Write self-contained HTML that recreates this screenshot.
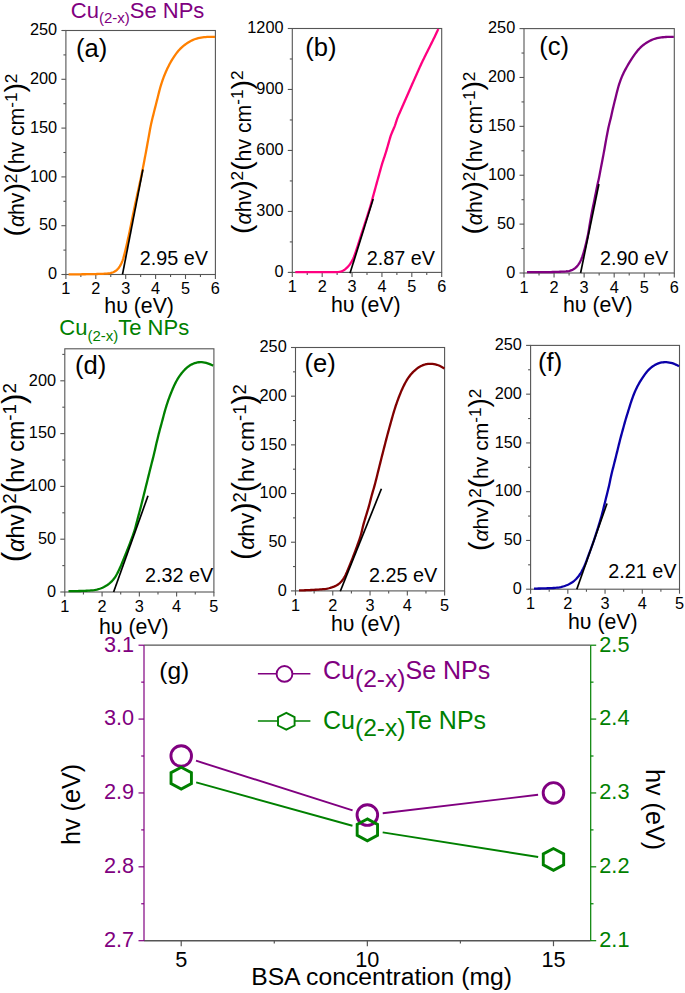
<!DOCTYPE html>
<html><head><meta charset="utf-8"><title>Figure</title><style>html,body{margin:0;padding:0;background:#fff;overflow:hidden;}svg{display:block;}text{font-family:"Liberation Sans", sans-serif;}</style></head><body>
<svg width="685" height="993" viewBox="0 0 685 993">
<rect width="685" height="993" fill="#fff"/>
<text x="70.8" y="17.6" font-size="22.0" fill="#800080">Cu<tspan font-size="15" dy="5.5">(2-x)</tspan><tspan dy="-5.5">Se NPs</tspan></text>
<text x="59.3" y="335.2" font-size="22.0" fill="#008000">Cu<tspan font-size="15" dy="5.5">(2-x)</tspan><tspan dy="-5.5">Te NPs</tspan></text>
<rect x="65.90" y="30.50" width="149.50" height="244.00" fill="none" stroke="#555" stroke-width="1.10"/>
<line x1="65.90" y1="274.50" x2="65.90" y2="279.00" stroke="#555" stroke-width="1.10"/>
<text x="65.90" y="294.10" font-size="16.30" text-anchor="middle" fill="#000">1</text>
<line x1="80.85" y1="274.50" x2="80.85" y2="277.00" stroke="#555" stroke-width="1.10"/>
<line x1="95.80" y1="274.50" x2="95.80" y2="279.00" stroke="#555" stroke-width="1.10"/>
<text x="95.80" y="294.10" font-size="16.30" text-anchor="middle" fill="#000">2</text>
<line x1="110.75" y1="274.50" x2="110.75" y2="277.00" stroke="#555" stroke-width="1.10"/>
<line x1="125.70" y1="274.50" x2="125.70" y2="279.00" stroke="#555" stroke-width="1.10"/>
<text x="125.70" y="294.10" font-size="16.30" text-anchor="middle" fill="#000">3</text>
<line x1="140.65" y1="274.50" x2="140.65" y2="277.00" stroke="#555" stroke-width="1.10"/>
<line x1="155.60" y1="274.50" x2="155.60" y2="279.00" stroke="#555" stroke-width="1.10"/>
<text x="155.60" y="294.10" font-size="16.30" text-anchor="middle" fill="#000">4</text>
<line x1="170.55" y1="274.50" x2="170.55" y2="277.00" stroke="#555" stroke-width="1.10"/>
<line x1="185.50" y1="274.50" x2="185.50" y2="279.00" stroke="#555" stroke-width="1.10"/>
<text x="185.50" y="294.10" font-size="16.30" text-anchor="middle" fill="#000">5</text>
<line x1="200.45" y1="274.50" x2="200.45" y2="277.00" stroke="#555" stroke-width="1.10"/>
<line x1="215.40" y1="274.50" x2="215.40" y2="279.00" stroke="#555" stroke-width="1.10"/>
<text x="215.40" y="294.10" font-size="16.30" text-anchor="middle" fill="#000">6</text>
<line x1="61.40" y1="274.50" x2="65.90" y2="274.50" stroke="#555" stroke-width="1.10"/>
<text x="57.10" y="279.20" font-size="16.30" text-anchor="end" fill="#000">0</text>
<line x1="63.40" y1="250.10" x2="65.90" y2="250.10" stroke="#555" stroke-width="1.10"/>
<line x1="61.40" y1="225.70" x2="65.90" y2="225.70" stroke="#555" stroke-width="1.10"/>
<text x="57.10" y="230.40" font-size="16.30" text-anchor="end" fill="#000">50</text>
<line x1="63.40" y1="201.30" x2="65.90" y2="201.30" stroke="#555" stroke-width="1.10"/>
<line x1="61.40" y1="176.90" x2="65.90" y2="176.90" stroke="#555" stroke-width="1.10"/>
<text x="57.10" y="181.60" font-size="16.30" text-anchor="end" fill="#000">100</text>
<line x1="63.40" y1="152.50" x2="65.90" y2="152.50" stroke="#555" stroke-width="1.10"/>
<line x1="61.40" y1="128.10" x2="65.90" y2="128.10" stroke="#555" stroke-width="1.10"/>
<text x="57.10" y="132.80" font-size="16.30" text-anchor="end" fill="#000">150</text>
<line x1="63.40" y1="103.70" x2="65.90" y2="103.70" stroke="#555" stroke-width="1.10"/>
<line x1="61.40" y1="79.30" x2="65.90" y2="79.30" stroke="#555" stroke-width="1.10"/>
<text x="57.10" y="84.00" font-size="16.30" text-anchor="end" fill="#000">200</text>
<line x1="63.40" y1="54.90" x2="65.90" y2="54.90" stroke="#555" stroke-width="1.10"/>
<line x1="61.40" y1="30.50" x2="65.90" y2="30.50" stroke="#555" stroke-width="1.10"/>
<text x="57.10" y="35.20" font-size="16.30" text-anchor="end" fill="#000">250</text>
<path d="M68.60,274.30 L70.10,274.30 L71.60,274.30 L73.10,274.30 L74.60,274.30 L76.10,274.30 L77.60,274.30 L79.10,274.29 L80.60,274.28 L82.10,274.27 L83.60,274.25 L85.10,274.23 L86.60,274.21 L88.10,274.19 L89.60,274.17 L91.10,274.15 L92.60,274.12 L94.10,274.09 L95.60,274.05 L97.10,274.01 L98.60,273.96 L100.09,273.90 L101.59,273.85 L103.09,273.79 L104.59,273.72 L106.09,273.63 L107.57,273.51 L109.05,273.33 L110.51,273.07 L111.93,272.71 L113.31,272.21 L114.61,271.56 L115.83,270.77 L116.96,269.85 L117.98,268.80 L118.91,267.66 L119.75,266.44 L120.50,265.16 L121.18,263.84 L121.79,262.48 L122.35,261.09 L122.85,259.68 L123.30,258.26 L123.71,256.82 L124.10,255.37 L124.48,253.92 L124.85,252.47 L125.22,251.01 L125.58,249.56 L125.93,248.10 L126.28,246.64 L126.61,245.18 L126.93,243.71 L127.25,242.25 L127.58,240.78 L127.90,239.32 L128.23,237.85 L128.55,236.39 L128.88,234.93 L129.20,233.46 L129.52,232.00 L129.82,230.53 L130.12,229.06 L130.41,227.59 L130.70,226.11 L130.99,224.64 L131.28,223.17 L131.58,221.70 L131.88,220.23 L132.18,218.76 L132.48,217.29 L132.78,215.82 L133.09,214.35 L133.39,212.88 L133.69,211.41 L133.99,209.95 L134.29,208.48 L134.60,207.01 L134.90,205.54 L135.21,204.07 L135.53,202.60 L135.84,201.14 L136.16,199.67 L136.47,198.20 L136.79,196.74 L137.11,195.27 L137.43,193.81 L137.76,192.34 L138.08,190.88 L138.40,189.41 L138.72,187.95 L139.04,186.48 L139.36,185.02 L139.68,183.55 L140.00,182.09 L140.31,180.62 L140.63,179.15 L140.94,177.69 L141.25,176.22 L141.56,174.75 L141.85,173.28 L142.15,171.81 L142.44,170.34 L142.73,168.87 L143.02,167.39 L143.31,165.92 L143.60,164.45 L143.88,162.98 L144.17,161.50 L144.44,160.03 L144.72,158.56 L145.00,157.08 L145.28,155.61 L145.55,154.13 L145.83,152.66 L146.10,151.18 L146.37,149.71 L146.64,148.23 L146.91,146.76 L147.18,145.28 L147.44,143.81 L147.71,142.33 L147.98,140.85 L148.24,139.38 L148.51,137.90 L148.78,136.42 L149.04,134.95 L149.31,133.47 L149.58,132.00 L149.84,130.52 L150.11,129.04 L150.39,127.57 L150.67,126.10 L150.97,124.63 L151.28,123.16 L151.62,121.70 L151.96,120.24 L152.32,118.79 L152.68,117.33 L153.04,115.87 L153.40,114.42 L153.77,112.96 L154.13,111.51 L154.50,110.05 L154.87,108.60 L155.24,107.15 L155.62,105.69 L155.99,104.24 L156.36,102.79 L156.73,101.33 L157.10,99.88 L157.46,98.42 L157.82,96.97 L158.19,95.51 L158.55,94.06 L158.91,92.60 L159.28,91.15 L159.66,89.70 L160.06,88.25 L160.47,86.81 L160.91,85.38 L161.36,83.95 L161.82,82.52 L162.28,81.09 L162.76,79.67 L163.26,78.26 L163.78,76.86 L164.33,75.46 L164.90,74.08 L165.49,72.70 L166.10,71.33 L166.72,69.96 L167.35,68.60 L168.00,67.25 L168.67,65.91 L169.35,64.57 L170.05,63.25 L170.78,61.94 L171.54,60.65 L172.31,59.36 L173.11,58.10 L173.93,56.84 L174.77,55.60 L175.64,54.38 L176.54,53.18 L177.46,52.00 L178.41,50.85 L179.39,49.72 L180.42,48.64 L181.49,47.60 L182.60,46.61 L183.75,45.65 L184.93,44.73 L186.13,43.84 L187.36,42.99 L188.62,42.18 L189.90,41.42 L191.22,40.72 L192.57,40.09 L193.94,39.51 L195.35,39.00 L196.77,38.55 L198.21,38.16 L199.67,37.84 L201.14,37.56 L202.61,37.33 L204.10,37.16 L205.59,37.03 L207.08,36.94 L208.58,36.89 L210.08,36.85 L211.58,36.82 L213.08,36.81 L214.58,36.80 L215.08,36.80" fill="none" stroke="#FF8000" stroke-width="2.30" stroke-linejoin="round" stroke-linecap="butt"/>
<line x1="122.50" y1="274.40" x2="142.90" y2="169.50" stroke="#000" stroke-width="1.7"/>
<text x="76.00" y="57.00" font-size="25.60" text-anchor="start" fill="#000">(a)</text>
<text x="208.00" y="264.50" font-size="19.80" text-anchor="end" fill="#000">2.95 eV</text>
<text x="104.30" y="312.60" font-size="21.30" text-anchor="start" fill="#000">h&#965; (eV)</text>
<text transform="translate(24.20,155.05) rotate(-90)" font-size="21.16" text-anchor="middle"><tspan font-size="28.21">(</tspan><tspan font-style="italic">&#945;</tspan>hv<tspan font-size="28.21">)</tspan><tspan font-size="17.13" dy="-7.66">2</tspan><tspan font-size="28.21" dy="7.66">(</tspan>hv cm<tspan font-size="17.13" dy="-7.66">-1</tspan><tspan font-size="28.21" dy="7.66">)</tspan><tspan font-size="17.13" dy="-7.66">2</tspan></text>
<rect x="292.30" y="28.50" width="149.40" height="243.90" fill="none" stroke="#555" stroke-width="1.10"/>
<line x1="292.30" y1="272.40" x2="292.30" y2="276.90" stroke="#555" stroke-width="1.10"/>
<text x="292.30" y="292.00" font-size="16.30" text-anchor="middle" fill="#000">1</text>
<line x1="307.24" y1="272.40" x2="307.24" y2="274.90" stroke="#555" stroke-width="1.10"/>
<line x1="322.18" y1="272.40" x2="322.18" y2="276.90" stroke="#555" stroke-width="1.10"/>
<text x="322.18" y="292.00" font-size="16.30" text-anchor="middle" fill="#000">2</text>
<line x1="337.12" y1="272.40" x2="337.12" y2="274.90" stroke="#555" stroke-width="1.10"/>
<line x1="352.06" y1="272.40" x2="352.06" y2="276.90" stroke="#555" stroke-width="1.10"/>
<text x="352.06" y="292.00" font-size="16.30" text-anchor="middle" fill="#000">3</text>
<line x1="367.00" y1="272.40" x2="367.00" y2="274.90" stroke="#555" stroke-width="1.10"/>
<line x1="381.94" y1="272.40" x2="381.94" y2="276.90" stroke="#555" stroke-width="1.10"/>
<text x="381.94" y="292.00" font-size="16.30" text-anchor="middle" fill="#000">4</text>
<line x1="396.88" y1="272.40" x2="396.88" y2="274.90" stroke="#555" stroke-width="1.10"/>
<line x1="411.82" y1="272.40" x2="411.82" y2="276.90" stroke="#555" stroke-width="1.10"/>
<text x="411.82" y="292.00" font-size="16.30" text-anchor="middle" fill="#000">5</text>
<line x1="426.76" y1="272.40" x2="426.76" y2="274.90" stroke="#555" stroke-width="1.10"/>
<line x1="441.70" y1="272.40" x2="441.70" y2="276.90" stroke="#555" stroke-width="1.10"/>
<text x="441.70" y="292.00" font-size="16.30" text-anchor="middle" fill="#000">6</text>
<line x1="287.80" y1="272.40" x2="292.30" y2="272.40" stroke="#555" stroke-width="1.10"/>
<text x="283.50" y="277.10" font-size="16.30" text-anchor="end" fill="#000">0</text>
<line x1="289.80" y1="241.91" x2="292.30" y2="241.91" stroke="#555" stroke-width="1.10"/>
<line x1="287.80" y1="211.42" x2="292.30" y2="211.42" stroke="#555" stroke-width="1.10"/>
<text x="283.50" y="216.12" font-size="16.30" text-anchor="end" fill="#000">300</text>
<line x1="289.80" y1="180.94" x2="292.30" y2="180.94" stroke="#555" stroke-width="1.10"/>
<line x1="287.80" y1="150.45" x2="292.30" y2="150.45" stroke="#555" stroke-width="1.10"/>
<text x="283.50" y="155.15" font-size="16.30" text-anchor="end" fill="#000">600</text>
<line x1="289.80" y1="119.96" x2="292.30" y2="119.96" stroke="#555" stroke-width="1.10"/>
<line x1="287.80" y1="89.47" x2="292.30" y2="89.47" stroke="#555" stroke-width="1.10"/>
<text x="283.50" y="94.17" font-size="16.30" text-anchor="end" fill="#000">900</text>
<line x1="289.80" y1="58.99" x2="292.30" y2="58.99" stroke="#555" stroke-width="1.10"/>
<line x1="287.80" y1="28.50" x2="292.30" y2="28.50" stroke="#555" stroke-width="1.10"/>
<text x="283.50" y="33.20" font-size="16.30" text-anchor="end" fill="#000">1200</text>
<path d="M295.30,272.20 L296.80,272.20 L298.30,272.20 L299.80,272.20 L301.30,272.20 L302.80,272.20 L304.30,272.20 L305.80,272.20 L307.30,272.20 L308.80,272.20 L310.30,272.20 L311.80,272.20 L313.30,272.20 L314.80,272.20 L316.30,272.20 L317.80,272.20 L319.30,272.20 L320.80,272.19 L322.30,272.19 L323.80,272.18 L325.30,272.17 L326.80,272.17 L328.30,272.16 L329.80,272.15 L331.30,272.15 L332.80,272.14 L334.30,272.13 L335.79,272.10 L337.28,272.05 L338.76,271.93 L340.20,271.71 L341.59,271.33 L342.91,270.78 L344.16,270.06 L345.33,269.18 L346.43,268.20 L347.48,267.15 L348.48,266.05 L349.44,264.91 L350.33,263.72 L351.16,262.48 L351.92,261.20 L352.61,259.88 L353.24,258.53 L353.82,257.15 L354.35,255.75 L354.86,254.34 L355.36,252.93 L355.84,251.51 L356.32,250.09 L356.79,248.67 L357.26,247.24 L357.73,245.82 L358.19,244.39 L358.65,242.96 L359.10,241.53 L359.55,240.10 L360.00,238.67 L360.45,237.24 L360.90,235.81 L361.36,234.38 L361.82,232.95 L362.28,231.52 L362.75,230.10 L363.22,228.67 L363.69,227.25 L364.15,225.82 L364.62,224.40 L365.09,222.97 L365.56,221.55 L366.02,220.12 L366.48,218.69 L366.94,217.26 L367.39,215.83 L367.84,214.40 L368.29,212.97 L368.74,211.54 L369.19,210.11 L369.64,208.68 L370.08,207.24 L370.50,205.81 L370.92,204.37 L371.32,202.92 L371.71,201.47 L372.10,200.03 L372.49,198.58 L372.88,197.13 L373.28,195.68 L373.67,194.24 L374.07,192.79 L374.47,191.34 L374.87,189.90 L375.26,188.45 L375.66,187.00 L376.06,185.56 L376.46,184.11 L376.85,182.66 L377.25,181.22 L377.65,179.77 L378.05,178.33 L378.46,176.88 L378.86,175.44 L379.26,173.99 L379.66,172.55 L380.06,171.10 L380.45,169.65 L380.86,168.21 L381.26,166.76 L381.67,165.32 L382.10,163.88 L382.55,162.45 L383.01,161.03 L383.48,159.60 L383.96,158.18 L384.44,156.76 L384.91,155.34 L385.37,153.91 L385.82,152.48 L386.26,151.05 L386.69,149.61 L387.12,148.17 L387.54,146.73 L387.96,145.29 L388.37,143.85 L388.78,142.41 L389.19,140.96 L389.60,139.52 L390.02,138.08 L390.46,136.65 L390.95,135.24 L391.47,133.84 L392.04,132.45 L392.62,131.07 L393.22,129.70 L393.82,128.32 L394.39,126.94 L394.92,125.55 L395.42,124.13 L395.87,122.71 L396.32,121.28 L396.78,119.86 L397.28,118.45 L397.82,117.06 L398.39,115.68 L398.99,114.30 L399.59,112.93 L400.20,111.55 L400.80,110.18 L401.41,108.81 L402.01,107.44 L402.61,106.06 L403.21,104.69 L403.82,103.31 L404.42,101.94 L405.02,100.57 L405.63,99.19 L406.23,97.82 L406.84,96.45 L407.45,95.08 L408.05,93.71 L408.65,92.33 L409.25,90.96 L409.85,89.58 L410.45,88.21 L411.05,86.83 L411.64,85.46 L412.24,84.08 L412.85,82.71 L413.45,81.34 L414.07,79.97 L414.68,78.60 L415.29,77.23 L415.91,75.86 L416.52,74.49 L417.13,73.12 L417.74,71.75 L418.35,70.38 L418.96,69.01 L419.57,67.64 L420.19,66.27 L420.81,64.91 L421.44,63.55 L422.08,62.19 L422.73,60.84 L423.39,59.49 L424.05,58.15 L424.71,56.80 L425.38,55.46 L426.05,54.11 L426.72,52.77 L427.39,51.43 L428.06,50.09 L428.73,48.74 L429.40,47.40 L430.07,46.06 L430.74,44.72 L431.41,43.38 L432.08,42.04 L432.75,40.69 L433.41,39.35 L434.08,38.00 L434.73,36.65 L435.37,35.30 L436.01,33.94 L436.65,32.58 L437.28,31.22 L437.91,29.86 L438.33,28.95" fill="none" stroke="#FF0080" stroke-width="2.30" stroke-linejoin="round" stroke-linecap="butt"/>
<line x1="350.00" y1="273.30" x2="373.20" y2="199.10" stroke="#000" stroke-width="1.7"/>
<text x="305.30" y="56.30" font-size="25.60" text-anchor="start" fill="#000">(b)</text>
<text x="434.90" y="264.80" font-size="19.80" text-anchor="end" fill="#000">2.87 eV</text>
<text x="331.00" y="311.50" font-size="21.30" text-anchor="start" fill="#000">h&#965; (eV)</text>
<text transform="translate(251.00,152.15) rotate(-90)" font-size="21.26" text-anchor="middle"><tspan font-size="28.35">(</tspan><tspan font-style="italic">&#945;</tspan>hv<tspan font-size="28.35">)</tspan><tspan font-size="17.21" dy="-7.69">2</tspan><tspan font-size="28.35" dy="7.69">(</tspan>hv cm<tspan font-size="17.21" dy="-7.69">-1</tspan><tspan font-size="28.35" dy="7.69">)</tspan><tspan font-size="17.21" dy="-7.69">2</tspan></text>
<rect x="524.00" y="28.60" width="150.30" height="244.40" fill="none" stroke="#555" stroke-width="1.10"/>
<line x1="524.00" y1="273.00" x2="524.00" y2="277.50" stroke="#555" stroke-width="1.10"/>
<text x="524.00" y="292.60" font-size="16.30" text-anchor="middle" fill="#000">1</text>
<line x1="539.03" y1="273.00" x2="539.03" y2="275.50" stroke="#555" stroke-width="1.10"/>
<line x1="554.06" y1="273.00" x2="554.06" y2="277.50" stroke="#555" stroke-width="1.10"/>
<text x="554.06" y="292.60" font-size="16.30" text-anchor="middle" fill="#000">2</text>
<line x1="569.09" y1="273.00" x2="569.09" y2="275.50" stroke="#555" stroke-width="1.10"/>
<line x1="584.12" y1="273.00" x2="584.12" y2="277.50" stroke="#555" stroke-width="1.10"/>
<text x="584.12" y="292.60" font-size="16.30" text-anchor="middle" fill="#000">3</text>
<line x1="599.15" y1="273.00" x2="599.15" y2="275.50" stroke="#555" stroke-width="1.10"/>
<line x1="614.18" y1="273.00" x2="614.18" y2="277.50" stroke="#555" stroke-width="1.10"/>
<text x="614.18" y="292.60" font-size="16.30" text-anchor="middle" fill="#000">4</text>
<line x1="629.21" y1="273.00" x2="629.21" y2="275.50" stroke="#555" stroke-width="1.10"/>
<line x1="644.24" y1="273.00" x2="644.24" y2="277.50" stroke="#555" stroke-width="1.10"/>
<text x="644.24" y="292.60" font-size="16.30" text-anchor="middle" fill="#000">5</text>
<line x1="659.27" y1="273.00" x2="659.27" y2="275.50" stroke="#555" stroke-width="1.10"/>
<line x1="674.30" y1="273.00" x2="674.30" y2="277.50" stroke="#555" stroke-width="1.10"/>
<text x="674.30" y="292.60" font-size="16.30" text-anchor="middle" fill="#000">6</text>
<line x1="519.50" y1="273.00" x2="524.00" y2="273.00" stroke="#555" stroke-width="1.10"/>
<text x="515.20" y="277.70" font-size="16.30" text-anchor="end" fill="#000">0</text>
<line x1="521.50" y1="248.56" x2="524.00" y2="248.56" stroke="#555" stroke-width="1.10"/>
<line x1="519.50" y1="224.12" x2="524.00" y2="224.12" stroke="#555" stroke-width="1.10"/>
<text x="515.20" y="228.82" font-size="16.30" text-anchor="end" fill="#000">50</text>
<line x1="521.50" y1="199.68" x2="524.00" y2="199.68" stroke="#555" stroke-width="1.10"/>
<line x1="519.50" y1="175.24" x2="524.00" y2="175.24" stroke="#555" stroke-width="1.10"/>
<text x="515.20" y="179.94" font-size="16.30" text-anchor="end" fill="#000">100</text>
<line x1="521.50" y1="150.80" x2="524.00" y2="150.80" stroke="#555" stroke-width="1.10"/>
<line x1="519.50" y1="126.36" x2="524.00" y2="126.36" stroke="#555" stroke-width="1.10"/>
<text x="515.20" y="131.06" font-size="16.30" text-anchor="end" fill="#000">150</text>
<line x1="521.50" y1="101.92" x2="524.00" y2="101.92" stroke="#555" stroke-width="1.10"/>
<line x1="519.50" y1="77.48" x2="524.00" y2="77.48" stroke="#555" stroke-width="1.10"/>
<text x="515.20" y="82.18" font-size="16.30" text-anchor="end" fill="#000">200</text>
<line x1="521.50" y1="53.04" x2="524.00" y2="53.04" stroke="#555" stroke-width="1.10"/>
<line x1="519.50" y1="28.60" x2="524.00" y2="28.60" stroke="#555" stroke-width="1.10"/>
<text x="515.20" y="33.30" font-size="16.30" text-anchor="end" fill="#000">250</text>
<path d="M527.00,272.20 L528.50,272.19 L530.00,272.19 L531.50,272.18 L533.00,272.17 L534.50,272.17 L536.00,272.16 L537.50,272.15 L539.00,272.15 L540.50,272.14 L542.00,272.13 L543.50,272.13 L545.00,272.12 L546.50,272.11 L548.00,272.10 L549.50,272.07 L551.00,272.04 L552.50,272.00 L554.00,271.96 L555.50,271.91 L557.00,271.86 L558.49,271.81 L559.99,271.76 L561.49,271.70 L562.99,271.64 L564.48,271.56 L565.97,271.44 L567.45,271.26 L568.92,271.01 L570.35,270.66 L571.73,270.19 L573.05,269.58 L574.29,268.83 L575.45,267.94 L576.51,266.93 L577.48,265.82 L578.37,264.63 L579.19,263.39 L579.94,262.11 L580.62,260.78 L581.24,259.42 L581.80,258.04 L582.31,256.64 L582.79,255.22 L583.24,253.79 L583.68,252.35 L584.09,250.91 L584.49,249.47 L584.88,248.02 L585.25,246.56 L585.61,245.11 L585.96,243.65 L586.31,242.19 L586.65,240.73 L586.98,239.27 L587.31,237.81 L587.63,236.34 L587.93,234.87 L588.22,233.40 L588.48,231.92 L588.74,230.45 L588.99,228.97 L589.23,227.49 L589.47,226.01 L589.71,224.53 L589.96,223.05 L590.20,221.57 L590.45,220.09 L590.71,218.61 L590.97,217.13 L591.23,215.66 L591.50,214.18 L591.78,212.71 L592.07,211.23 L592.36,209.76 L592.67,208.29 L592.97,206.83 L593.28,205.36 L593.59,203.89 L593.89,202.42 L594.19,200.95 L594.49,199.48 L594.78,198.01 L595.07,196.54 L595.36,195.07 L595.65,193.60 L595.94,192.12 L596.24,190.65 L596.53,189.18 L596.83,187.71 L597.14,186.24 L597.46,184.78 L597.78,183.31 L598.11,181.85 L598.44,180.39 L598.77,178.93 L599.08,177.46 L599.38,175.99 L599.66,174.52 L599.94,173.04 L600.21,171.57 L600.48,170.09 L600.76,168.62 L601.04,167.15 L601.32,165.67 L601.61,164.20 L601.90,162.73 L602.19,161.26 L602.47,159.78 L602.75,158.31 L603.03,156.84 L603.31,155.36 L603.58,153.89 L603.85,152.41 L604.12,150.94 L604.39,149.46 L604.65,147.98 L604.91,146.51 L605.17,145.03 L605.43,143.55 L605.69,142.07 L605.95,140.60 L606.22,139.12 L606.49,137.65 L606.76,136.17 L607.05,134.70 L607.33,133.23 L607.62,131.75 L607.92,130.28 L608.21,128.81 L608.52,127.35 L608.84,125.88 L609.18,124.42 L609.54,122.97 L609.92,121.51 L610.29,120.06 L610.65,118.61 L610.99,117.15 L611.32,115.68 L611.64,114.22 L611.96,112.75 L612.29,111.29 L612.62,109.83 L612.96,108.37 L613.30,106.91 L613.66,105.45 L614.01,103.99 L614.37,102.54 L614.73,101.08 L615.09,99.62 L615.45,98.17 L615.81,96.71 L616.17,95.25 L616.54,93.80 L616.90,92.34 L617.27,90.89 L617.65,89.44 L618.03,87.99 L618.44,86.55 L618.87,85.11 L619.32,83.68 L619.80,82.26 L620.30,80.85 L620.82,79.44 L621.36,78.05 L621.94,76.66 L622.53,75.29 L623.15,73.92 L623.79,72.57 L624.46,71.23 L625.16,69.90 L625.88,68.59 L626.61,67.28 L627.34,65.97 L628.09,64.67 L628.85,63.37 L629.61,62.08 L630.39,60.80 L631.19,59.53 L632.00,58.27 L632.83,57.02 L633.68,55.79 L634.55,54.57 L635.44,53.37 L636.36,52.18 L637.29,51.01 L638.26,49.87 L639.26,48.76 L640.30,47.69 L641.39,46.66 L642.51,45.69 L643.69,44.76 L644.89,43.88 L646.12,43.03 L647.38,42.23 L648.67,41.48 L649.99,40.77 L651.33,40.12 L652.70,39.53 L654.09,39.02 L655.52,38.59 L656.96,38.23 L658.42,37.91 L659.90,37.65 L661.38,37.43 L662.86,37.25 L664.35,37.11 L665.85,37.00 L667.34,36.91 L668.84,36.86 L670.34,36.82 L671.84,36.81 L673.34,36.80 L673.84,36.80" fill="none" stroke="#800080" stroke-width="2.30" stroke-linejoin="round" stroke-linecap="butt"/>
<line x1="580.60" y1="273.00" x2="598.90" y2="184.00" stroke="#000" stroke-width="1.7"/>
<text x="539.30" y="54.70" font-size="25.60" text-anchor="start" fill="#000">(c)</text>
<text x="668.30" y="264.80" font-size="19.80" text-anchor="end" fill="#000">2.90 eV</text>
<text x="563.00" y="311.50" font-size="21.30" text-anchor="start" fill="#000">h&#965; (eV)</text>
<text transform="translate(482.20,153.10) rotate(-90)" font-size="21.19" text-anchor="middle"><tspan font-size="28.25">(</tspan><tspan font-style="italic">&#945;</tspan>hv<tspan font-size="28.25">)</tspan><tspan font-size="17.15" dy="-7.67">2</tspan><tspan font-size="28.25" dy="7.67">(</tspan>hv cm<tspan font-size="17.15" dy="-7.67">-1</tspan><tspan font-size="28.25" dy="7.67">)</tspan><tspan font-size="17.15" dy="-7.67">2</tspan></text>
<rect x="64.80" y="348.80" width="149.10" height="243.20" fill="none" stroke="#555" stroke-width="1.10"/>
<line x1="64.80" y1="592.00" x2="64.80" y2="596.50" stroke="#555" stroke-width="1.10"/>
<text x="64.80" y="611.60" font-size="16.30" text-anchor="middle" fill="#000">1</text>
<line x1="83.44" y1="592.00" x2="83.44" y2="594.50" stroke="#555" stroke-width="1.10"/>
<line x1="102.08" y1="592.00" x2="102.08" y2="596.50" stroke="#555" stroke-width="1.10"/>
<text x="102.08" y="611.60" font-size="16.30" text-anchor="middle" fill="#000">2</text>
<line x1="120.71" y1="592.00" x2="120.71" y2="594.50" stroke="#555" stroke-width="1.10"/>
<line x1="139.35" y1="592.00" x2="139.35" y2="596.50" stroke="#555" stroke-width="1.10"/>
<text x="139.35" y="611.60" font-size="16.30" text-anchor="middle" fill="#000">3</text>
<line x1="157.99" y1="592.00" x2="157.99" y2="594.50" stroke="#555" stroke-width="1.10"/>
<line x1="176.62" y1="592.00" x2="176.62" y2="596.50" stroke="#555" stroke-width="1.10"/>
<text x="176.62" y="611.60" font-size="16.30" text-anchor="middle" fill="#000">4</text>
<line x1="195.26" y1="592.00" x2="195.26" y2="594.50" stroke="#555" stroke-width="1.10"/>
<line x1="213.90" y1="592.00" x2="213.90" y2="596.50" stroke="#555" stroke-width="1.10"/>
<text x="213.90" y="611.60" font-size="16.30" text-anchor="middle" fill="#000">5</text>
<line x1="60.30" y1="592.00" x2="64.80" y2="592.00" stroke="#555" stroke-width="1.10"/>
<text x="56.00" y="596.70" font-size="16.30" text-anchor="end" fill="#000">0</text>
<line x1="62.30" y1="565.60" x2="64.80" y2="565.60" stroke="#555" stroke-width="1.10"/>
<line x1="60.30" y1="539.20" x2="64.80" y2="539.20" stroke="#555" stroke-width="1.10"/>
<text x="56.00" y="543.90" font-size="16.30" text-anchor="end" fill="#000">50</text>
<line x1="62.30" y1="512.80" x2="64.80" y2="512.80" stroke="#555" stroke-width="1.10"/>
<line x1="60.30" y1="486.40" x2="64.80" y2="486.40" stroke="#555" stroke-width="1.10"/>
<text x="56.00" y="491.10" font-size="16.30" text-anchor="end" fill="#000">100</text>
<line x1="62.30" y1="460.00" x2="64.80" y2="460.00" stroke="#555" stroke-width="1.10"/>
<line x1="60.30" y1="433.60" x2="64.80" y2="433.60" stroke="#555" stroke-width="1.10"/>
<text x="56.00" y="438.30" font-size="16.30" text-anchor="end" fill="#000">150</text>
<line x1="62.30" y1="407.20" x2="64.80" y2="407.20" stroke="#555" stroke-width="1.10"/>
<line x1="60.30" y1="380.80" x2="64.80" y2="380.80" stroke="#555" stroke-width="1.10"/>
<text x="56.00" y="385.50" font-size="16.30" text-anchor="end" fill="#000">200</text>
<line x1="62.30" y1="354.40" x2="64.80" y2="354.40" stroke="#555" stroke-width="1.10"/>
<path d="M68.50,591.20 L70.00,591.18 L71.50,591.15 L73.00,591.13 L74.50,591.10 L76.00,591.08 L77.50,591.05 L79.00,591.02 L80.50,590.99 L82.00,590.95 L83.50,590.90 L84.99,590.85 L86.49,590.77 L87.99,590.68 L89.48,590.56 L90.98,590.43 L92.46,590.27 L93.95,590.07 L95.42,589.83 L96.89,589.53 L98.34,589.18 L99.77,588.76 L101.17,588.27 L102.55,587.71 L103.90,587.07 L105.21,586.36 L106.48,585.58 L107.71,584.74 L108.90,583.84 L110.05,582.89 L111.15,581.88 L112.19,580.82 L113.17,579.71 L114.09,578.54 L114.96,577.32 L115.77,576.06 L116.53,574.78 L117.25,573.47 L117.94,572.14 L118.60,570.79 L119.25,569.44 L119.87,568.08 L120.48,566.71 L121.07,565.33 L121.66,563.95 L122.23,562.56 L122.80,561.17 L123.36,559.78 L123.93,558.39 L124.49,557.00 L125.05,555.61 L125.61,554.22 L126.17,552.83 L126.73,551.44 L127.29,550.05 L127.85,548.65 L128.40,547.26 L128.95,545.86 L129.49,544.46 L130.02,543.06 L130.54,541.66 L131.07,540.25 L131.59,538.84 L132.10,537.43 L132.62,536.03 L133.12,534.61 L133.62,533.20 L134.10,531.78 L134.56,530.35 L134.99,528.92 L135.39,527.47 L135.77,526.03 L136.14,524.57 L136.51,523.12 L136.88,521.66 L137.26,520.21 L137.64,518.76 L138.03,517.32 L138.43,515.87 L138.82,514.42 L139.22,512.97 L139.60,511.52 L139.99,510.07 L140.36,508.62 L140.74,507.17 L141.11,505.72 L141.47,504.26 L141.84,502.81 L142.20,501.35 L142.56,499.90 L142.92,498.44 L143.28,496.98 L143.65,495.53 L144.01,494.07 L144.37,492.62 L144.73,491.16 L145.10,489.71 L145.46,488.25 L145.82,486.80 L146.19,485.34 L146.55,483.88 L146.91,482.43 L147.27,480.97 L147.63,479.52 L147.99,478.06 L148.35,476.60 L148.71,475.15 L149.07,473.69 L149.43,472.24 L149.79,470.78 L150.16,469.32 L150.52,467.87 L150.88,466.41 L151.25,464.96 L151.62,463.51 L151.99,462.05 L152.37,460.60 L152.74,459.15 L153.11,457.70 L153.48,456.24 L153.83,454.78 L154.18,453.32 L154.52,451.86 L154.85,450.40 L155.18,448.94 L155.51,447.47 L155.84,446.01 L156.17,444.55 L156.51,443.09 L156.86,441.63 L157.21,440.17 L157.57,438.71 L157.93,437.26 L158.29,435.80 L158.65,434.34 L159.02,432.89 L159.39,431.44 L159.77,429.99 L160.16,428.54 L160.56,427.09 L160.95,425.64 L161.35,424.20 L161.74,422.75 L162.14,421.30 L162.52,419.85 L162.91,418.40 L163.29,416.95 L163.67,415.50 L164.05,414.05 L164.44,412.60 L164.84,411.16 L165.26,409.72 L165.68,408.28 L166.12,406.85 L166.56,405.41 L167.02,403.98 L167.49,402.56 L167.97,401.14 L168.47,399.73 L168.98,398.32 L169.51,396.91 L170.04,395.51 L170.58,394.11 L171.13,392.72 L171.69,391.33 L172.27,389.94 L172.85,388.56 L173.45,387.19 L174.07,385.82 L174.70,384.46 L175.37,383.12 L176.06,381.79 L176.78,380.48 L177.53,379.19 L178.32,377.91 L179.14,376.66 L179.99,375.43 L180.88,374.22 L181.79,373.04 L182.74,371.88 L183.72,370.75 L184.74,369.67 L185.81,368.62 L186.92,367.63 L188.08,366.70 L189.29,365.84 L190.55,365.05 L191.85,364.34 L193.19,363.72 L194.57,363.20 L195.99,362.78 L197.43,362.47 L198.89,362.25 L200.36,362.16 L201.83,362.18 L203.30,362.33 L204.76,362.57 L206.21,362.90 L207.63,363.32 L209.03,363.82 L210.41,364.39 L211.77,365.00 L213.13,365.63" fill="none" stroke="#008000" stroke-width="2.30" stroke-linejoin="round" stroke-linecap="butt"/>
<line x1="113.60" y1="592.00" x2="148.00" y2="495.80" stroke="#000" stroke-width="1.7"/>
<text x="75.00" y="374.00" font-size="25.60" text-anchor="start" fill="#000">(d)</text>
<text x="213.30" y="581.70" font-size="19.80" text-anchor="end" fill="#000">2.32 eV</text>
<text x="99.00" y="634.00" font-size="21.30" text-anchor="start" fill="#000">h&#965; (eV)</text>
<text transform="translate(24.20,472.65) rotate(-90)" font-size="23.31" text-anchor="middle"><tspan font-size="31.08">(</tspan><tspan font-style="italic">&#945;</tspan>hv<tspan font-size="31.08">)</tspan><tspan font-size="18.87" dy="-8.44">2</tspan><tspan font-size="31.08" dy="8.44">(</tspan>hv cm<tspan font-size="18.87" dy="-8.44">-1</tspan><tspan font-size="31.08" dy="8.44">)</tspan><tspan font-size="18.87" dy="-8.44">2</tspan></text>
<rect x="295.50" y="347.50" width="149.10" height="243.40" fill="none" stroke="#555" stroke-width="1.10"/>
<line x1="295.50" y1="590.90" x2="295.50" y2="595.40" stroke="#555" stroke-width="1.10"/>
<text x="295.50" y="610.50" font-size="16.30" text-anchor="middle" fill="#000">1</text>
<line x1="314.14" y1="590.90" x2="314.14" y2="593.40" stroke="#555" stroke-width="1.10"/>
<line x1="332.77" y1="590.90" x2="332.77" y2="595.40" stroke="#555" stroke-width="1.10"/>
<text x="332.77" y="610.50" font-size="16.30" text-anchor="middle" fill="#000">2</text>
<line x1="351.41" y1="590.90" x2="351.41" y2="593.40" stroke="#555" stroke-width="1.10"/>
<line x1="370.05" y1="590.90" x2="370.05" y2="595.40" stroke="#555" stroke-width="1.10"/>
<text x="370.05" y="610.50" font-size="16.30" text-anchor="middle" fill="#000">3</text>
<line x1="388.69" y1="590.90" x2="388.69" y2="593.40" stroke="#555" stroke-width="1.10"/>
<line x1="407.33" y1="590.90" x2="407.33" y2="595.40" stroke="#555" stroke-width="1.10"/>
<text x="407.33" y="610.50" font-size="16.30" text-anchor="middle" fill="#000">4</text>
<line x1="425.96" y1="590.90" x2="425.96" y2="593.40" stroke="#555" stroke-width="1.10"/>
<line x1="444.60" y1="590.90" x2="444.60" y2="595.40" stroke="#555" stroke-width="1.10"/>
<text x="444.60" y="610.50" font-size="16.30" text-anchor="middle" fill="#000">5</text>
<line x1="291.00" y1="590.90" x2="295.50" y2="590.90" stroke="#555" stroke-width="1.10"/>
<text x="286.70" y="595.60" font-size="16.30" text-anchor="end" fill="#000">0</text>
<line x1="293.00" y1="566.56" x2="295.50" y2="566.56" stroke="#555" stroke-width="1.10"/>
<line x1="291.00" y1="542.22" x2="295.50" y2="542.22" stroke="#555" stroke-width="1.10"/>
<text x="286.70" y="546.92" font-size="16.30" text-anchor="end" fill="#000">50</text>
<line x1="293.00" y1="517.88" x2="295.50" y2="517.88" stroke="#555" stroke-width="1.10"/>
<line x1="291.00" y1="493.54" x2="295.50" y2="493.54" stroke="#555" stroke-width="1.10"/>
<text x="286.70" y="498.24" font-size="16.30" text-anchor="end" fill="#000">100</text>
<line x1="293.00" y1="469.20" x2="295.50" y2="469.20" stroke="#555" stroke-width="1.10"/>
<line x1="291.00" y1="444.86" x2="295.50" y2="444.86" stroke="#555" stroke-width="1.10"/>
<text x="286.70" y="449.56" font-size="16.30" text-anchor="end" fill="#000">150</text>
<line x1="293.00" y1="420.52" x2="295.50" y2="420.52" stroke="#555" stroke-width="1.10"/>
<line x1="291.00" y1="396.18" x2="295.50" y2="396.18" stroke="#555" stroke-width="1.10"/>
<text x="286.70" y="400.88" font-size="16.30" text-anchor="end" fill="#000">200</text>
<line x1="293.00" y1="371.84" x2="295.50" y2="371.84" stroke="#555" stroke-width="1.10"/>
<line x1="291.00" y1="347.50" x2="295.50" y2="347.50" stroke="#555" stroke-width="1.10"/>
<text x="286.70" y="352.20" font-size="16.30" text-anchor="end" fill="#000">250</text>
<path d="M299.00,590.40 L300.50,590.37 L302.00,590.34 L303.50,590.31 L305.00,590.26 L306.50,590.21 L308.00,590.14 L309.49,590.08 L310.99,590.00 L312.49,589.93 L313.99,589.85 L315.49,589.76 L316.98,589.67 L318.48,589.57 L319.97,589.46 L321.47,589.35 L322.96,589.21 L324.45,589.04 L325.93,588.83 L327.40,588.56 L328.86,588.25 L330.31,587.88 L331.74,587.45 L333.15,586.96 L334.52,586.40 L335.86,585.76 L337.15,585.03 L338.37,584.21 L339.52,583.29 L340.60,582.28 L341.59,581.18 L342.51,580.02 L343.36,578.80 L344.14,577.53 L344.88,576.23 L345.56,574.90 L346.21,573.55 L346.84,572.19 L347.43,570.81 L348.01,569.43 L348.59,568.05 L349.15,566.66 L349.72,565.27 L350.28,563.87 L350.83,562.48 L351.39,561.09 L351.94,559.69 L352.49,558.30 L353.03,556.90 L353.57,555.50 L354.10,554.10 L354.63,552.69 L355.16,551.29 L355.68,549.88 L356.20,548.48 L356.72,547.07 L357.23,545.66 L357.74,544.25 L358.25,542.84 L358.75,541.42 L359.24,540.01 L359.73,538.59 L360.20,537.16 L360.64,535.73 L361.05,534.29 L361.43,532.84 L361.78,531.39 L362.12,529.93 L362.46,528.47 L362.81,527.01 L363.18,525.56 L363.56,524.11 L363.97,522.66 L364.39,521.23 L364.82,519.79 L365.25,518.35 L365.68,516.91 L366.11,515.48 L366.55,514.04 L366.99,512.61 L367.43,511.17 L367.86,509.74 L368.30,508.30 L368.72,506.86 L369.13,505.42 L369.52,503.97 L369.90,502.52 L370.27,501.07 L370.63,499.62 L371.00,498.16 L371.38,496.71 L371.77,495.26 L372.17,493.82 L372.59,492.38 L373.01,490.94 L373.44,489.50 L373.86,488.06 L374.27,486.62 L374.67,485.17 L375.06,483.73 L375.44,482.27 L375.80,480.82 L376.17,479.36 L376.53,477.91 L376.89,476.45 L377.25,475.00 L377.61,473.54 L377.97,472.08 L378.33,470.63 L378.69,469.17 L379.05,467.72 L379.41,466.26 L379.78,464.80 L380.14,463.35 L380.50,461.89 L380.87,460.44 L381.23,458.98 L381.60,457.53 L381.96,456.07 L382.33,454.62 L382.70,453.17 L383.07,451.71 L383.45,450.26 L383.82,448.81 L384.19,447.36 L384.57,445.90 L384.94,444.45 L385.31,443.00 L385.68,441.54 L386.06,440.09 L386.43,438.64 L386.81,437.19 L387.19,435.74 L387.58,434.29 L387.97,432.84 L388.36,431.39 L388.76,429.95 L389.16,428.50 L389.56,427.05 L389.96,425.61 L390.36,424.16 L390.76,422.72 L391.16,421.27 L391.56,419.82 L391.96,418.38 L392.37,416.94 L392.78,415.49 L393.20,414.05 L393.63,412.62 L394.06,411.18 L394.50,409.75 L394.95,408.32 L395.41,406.89 L395.87,405.46 L396.36,404.04 L396.85,402.63 L397.36,401.21 L397.87,399.80 L398.39,398.40 L398.91,396.99 L399.45,395.60 L400.01,394.20 L400.58,392.82 L401.16,391.43 L401.76,390.06 L402.37,388.69 L403.00,387.33 L403.65,385.98 L404.33,384.64 L405.02,383.31 L405.74,382.00 L406.48,380.70 L407.26,379.42 L408.08,378.17 L408.94,376.94 L409.83,375.74 L410.76,374.57 L411.73,373.44 L412.74,372.35 L413.81,371.30 L414.91,370.29 L416.05,369.33 L417.22,368.41 L418.44,367.56 L419.70,366.77 L421.01,366.06 L422.35,365.44 L423.73,364.92 L425.14,364.49 L426.59,364.17 L428.05,363.95 L429.52,363.84 L431.00,363.83 L432.47,363.94 L433.94,364.13 L435.40,364.41 L436.83,364.77 L438.24,365.23 L439.60,365.78 L440.94,366.43 L442.24,367.14 L443.54,367.89 L444.40,368.40" fill="none" stroke="#800000" stroke-width="2.30" stroke-linejoin="round" stroke-linecap="butt"/>
<line x1="340.30" y1="591.20" x2="381.40" y2="488.80" stroke="#000" stroke-width="1.7"/>
<text x="304.40" y="372.10" font-size="25.60" text-anchor="start" fill="#000">(e)</text>
<text x="437.20" y="581.60" font-size="19.80" text-anchor="end" fill="#000">2.25 eV</text>
<text x="331.00" y="630.50" font-size="21.30" text-anchor="start" fill="#000">h&#965; (eV)</text>
<text transform="translate(254.30,472.05) rotate(-90)" font-size="22.87" text-anchor="middle"><tspan font-size="30.49">(</tspan><tspan font-style="italic">&#945;</tspan>hv<tspan font-size="30.49">)</tspan><tspan font-size="18.51" dy="-8.28">2</tspan><tspan font-size="30.49" dy="8.28">(</tspan>hv cm<tspan font-size="18.51" dy="-8.28">-1</tspan><tspan font-size="30.49" dy="8.28">)</tspan><tspan font-size="18.51" dy="-8.28">2</tspan></text>
<rect x="530.60" y="345.40" width="148.90" height="243.80" fill="none" stroke="#555" stroke-width="1.10"/>
<line x1="530.60" y1="589.20" x2="530.60" y2="593.70" stroke="#555" stroke-width="1.10"/>
<text x="530.60" y="608.80" font-size="16.30" text-anchor="middle" fill="#000">1</text>
<line x1="549.21" y1="589.20" x2="549.21" y2="591.70" stroke="#555" stroke-width="1.10"/>
<line x1="567.83" y1="589.20" x2="567.83" y2="593.70" stroke="#555" stroke-width="1.10"/>
<text x="567.83" y="608.80" font-size="16.30" text-anchor="middle" fill="#000">2</text>
<line x1="586.44" y1="589.20" x2="586.44" y2="591.70" stroke="#555" stroke-width="1.10"/>
<line x1="605.05" y1="589.20" x2="605.05" y2="593.70" stroke="#555" stroke-width="1.10"/>
<text x="605.05" y="608.80" font-size="16.30" text-anchor="middle" fill="#000">3</text>
<line x1="623.66" y1="589.20" x2="623.66" y2="591.70" stroke="#555" stroke-width="1.10"/>
<line x1="642.27" y1="589.20" x2="642.27" y2="593.70" stroke="#555" stroke-width="1.10"/>
<text x="642.27" y="608.80" font-size="16.30" text-anchor="middle" fill="#000">4</text>
<line x1="660.89" y1="589.20" x2="660.89" y2="591.70" stroke="#555" stroke-width="1.10"/>
<line x1="679.50" y1="589.20" x2="679.50" y2="593.70" stroke="#555" stroke-width="1.10"/>
<text x="679.50" y="608.80" font-size="16.30" text-anchor="middle" fill="#000">5</text>
<line x1="526.10" y1="589.20" x2="530.60" y2="589.20" stroke="#555" stroke-width="1.10"/>
<text x="521.80" y="593.90" font-size="16.30" text-anchor="end" fill="#000">0</text>
<line x1="528.10" y1="564.82" x2="530.60" y2="564.82" stroke="#555" stroke-width="1.10"/>
<line x1="526.10" y1="540.44" x2="530.60" y2="540.44" stroke="#555" stroke-width="1.10"/>
<text x="521.80" y="545.14" font-size="16.30" text-anchor="end" fill="#000">50</text>
<line x1="528.10" y1="516.06" x2="530.60" y2="516.06" stroke="#555" stroke-width="1.10"/>
<line x1="526.10" y1="491.68" x2="530.60" y2="491.68" stroke="#555" stroke-width="1.10"/>
<text x="521.80" y="496.38" font-size="16.30" text-anchor="end" fill="#000">100</text>
<line x1="528.10" y1="467.30" x2="530.60" y2="467.30" stroke="#555" stroke-width="1.10"/>
<line x1="526.10" y1="442.92" x2="530.60" y2="442.92" stroke="#555" stroke-width="1.10"/>
<text x="521.80" y="447.62" font-size="16.30" text-anchor="end" fill="#000">150</text>
<line x1="528.10" y1="418.54" x2="530.60" y2="418.54" stroke="#555" stroke-width="1.10"/>
<line x1="526.10" y1="394.16" x2="530.60" y2="394.16" stroke="#555" stroke-width="1.10"/>
<text x="521.80" y="398.86" font-size="16.30" text-anchor="end" fill="#000">200</text>
<line x1="528.10" y1="369.78" x2="530.60" y2="369.78" stroke="#555" stroke-width="1.10"/>
<line x1="526.10" y1="345.40" x2="530.60" y2="345.40" stroke="#555" stroke-width="1.10"/>
<text x="521.80" y="350.10" font-size="16.30" text-anchor="end" fill="#000">250</text>
<path d="M534.00,588.60 L535.50,588.57 L537.00,588.55 L538.50,588.52 L540.00,588.48 L541.50,588.45 L543.00,588.41 L544.50,588.37 L546.00,588.32 L547.50,588.27 L548.99,588.21 L550.49,588.15 L551.99,588.07 L553.49,587.98 L554.98,587.87 L556.47,587.73 L557.95,587.55 L559.43,587.31 L560.89,587.01 L562.34,586.65 L563.78,586.25 L565.20,585.79 L566.60,585.27 L567.98,584.70 L569.33,584.06 L570.63,583.35 L571.90,582.57 L573.11,581.70 L574.26,580.77 L575.36,579.77 L576.41,578.71 L577.40,577.60 L578.35,576.44 L579.25,575.25 L580.10,574.02 L580.89,572.76 L581.65,571.46 L582.36,570.15 L583.05,568.82 L583.71,567.47 L584.34,566.11 L584.94,564.74 L585.51,563.36 L586.06,561.96 L586.59,560.56 L587.10,559.15 L587.61,557.74 L588.13,556.33 L588.65,554.92 L589.17,553.52 L589.70,552.11 L590.22,550.71 L590.74,549.30 L591.26,547.89 L591.77,546.48 L592.28,545.07 L592.78,543.66 L593.28,542.24 L593.77,540.83 L594.25,539.41 L594.72,537.98 L595.18,536.56 L595.64,535.13 L596.09,533.70 L596.55,532.27 L597.00,530.84 L597.45,529.41 L597.90,527.98 L598.35,526.55 L598.80,525.11 L599.24,523.68 L599.67,522.24 L600.10,520.81 L600.53,519.37 L600.95,517.93 L601.37,516.49 L601.76,515.04 L602.15,513.59 L602.52,512.14 L602.89,510.69 L603.25,509.23 L603.61,507.77 L603.97,506.32 L604.33,504.86 L604.69,503.41 L605.05,501.95 L605.41,500.49 L605.77,499.04 L606.14,497.58 L606.50,496.13 L606.86,494.67 L607.22,493.22 L607.58,491.76 L607.95,490.30 L608.30,488.85 L608.66,487.39 L609.00,485.93 L609.32,484.47 L609.64,483.00 L609.94,481.53 L610.24,480.06 L610.54,478.59 L610.85,477.12 L611.17,475.66 L611.50,474.20 L611.85,472.74 L612.21,471.28 L612.58,469.83 L612.96,468.38 L613.33,466.92 L613.70,465.47 L614.07,464.02 L614.43,462.56 L614.80,461.11 L615.16,459.65 L615.53,458.20 L615.89,456.74 L616.25,455.29 L616.61,453.83 L616.97,452.37 L617.33,450.92 L617.69,449.46 L618.05,448.01 L618.41,446.55 L618.76,445.09 L619.12,443.63 L619.48,442.18 L619.84,440.72 L620.21,439.27 L620.59,437.82 L620.98,436.37 L621.37,434.92 L621.77,433.48 L622.16,432.03 L622.56,430.58 L622.96,429.14 L623.36,427.69 L623.76,426.24 L624.16,424.80 L624.56,423.35 L624.96,421.91 L625.37,420.47 L625.79,419.03 L626.22,417.59 L626.66,416.15 L627.10,414.72 L627.54,413.29 L627.99,411.86 L628.43,410.42 L628.88,408.99 L629.32,407.56 L629.77,406.12 L630.21,404.69 L630.66,403.26 L631.13,401.84 L631.61,400.42 L632.10,399.00 L632.61,397.59 L633.13,396.18 L633.67,394.78 L634.22,393.39 L634.79,392.00 L635.39,390.63 L636.01,389.27 L636.66,387.92 L637.33,386.58 L638.02,385.25 L638.73,383.93 L639.46,382.62 L640.23,381.33 L641.02,380.06 L641.82,378.80 L642.65,377.55 L643.50,376.31 L644.36,375.08 L645.24,373.87 L646.15,372.68 L647.09,371.52 L648.07,370.40 L649.11,369.34 L650.20,368.32 L651.34,367.37 L652.53,366.47 L653.77,365.64 L655.04,364.88 L656.36,364.19 L657.71,363.60 L659.10,363.11 L660.53,362.73 L661.98,362.45 L663.45,362.27 L664.93,362.19 L666.40,362.22 L667.88,362.34 L669.35,362.55 L670.81,362.83 L672.25,363.20 L673.65,363.65 L675.02,364.21 L676.37,364.84 L677.69,365.52 L679.01,366.24" fill="none" stroke="#0A00A8" stroke-width="2.30" stroke-linejoin="round" stroke-linecap="butt"/>
<line x1="576.80" y1="589.20" x2="607.00" y2="503.50" stroke="#000" stroke-width="1.7"/>
<text x="538.00" y="370.90" font-size="25.60" text-anchor="start" fill="#000">(f)</text>
<text x="676.40" y="578.30" font-size="19.80" text-anchor="end" fill="#000">2.21 eV</text>
<text x="568.00" y="628.50" font-size="21.30" text-anchor="start" fill="#000">h&#965; (eV)</text>
<text transform="translate(488.20,469.75) rotate(-90)" font-size="21.10" text-anchor="middle"><tspan font-size="28.14">(</tspan><tspan font-style="italic">&#945;</tspan>hv<tspan font-size="28.14">)</tspan><tspan font-size="17.08" dy="-7.64">2</tspan><tspan font-size="28.14" dy="7.64">(</tspan>hv cm<tspan font-size="17.08" dy="-7.64">-1</tspan><tspan font-size="28.14" dy="7.64">)</tspan><tspan font-size="17.08" dy="-7.64">2</tspan></text>
<line x1="144.00" y1="645.20" x2="590.70" y2="645.20" stroke="#555" stroke-width="1.30"/>
<line x1="144.00" y1="940.70" x2="590.70" y2="940.70" stroke="#555" stroke-width="1.60"/>
<line x1="144.00" y1="645.20" x2="144.00" y2="940.70" stroke="#800080" stroke-width="1.20"/>
<line x1="590.70" y1="645.20" x2="590.70" y2="940.70" stroke="#008000" stroke-width="1.20"/>
<line x1="138.50" y1="940.70" x2="144.00" y2="940.70" stroke="#800080" stroke-width="1.2"/>
<text x="134.20" y="947.00" font-size="21.70" text-anchor="end" fill="#800080">2.7</text>
<line x1="590.70" y1="940.70" x2="596.20" y2="940.70" stroke="#008000" stroke-width="1.2"/>
<text x="599.30" y="947.00" font-size="21.70" text-anchor="start" fill="#008000">2.1</text>
<line x1="141.20" y1="903.76" x2="144.00" y2="903.76" stroke="#800080" stroke-width="1.2"/>
<line x1="590.70" y1="903.76" x2="593.50" y2="903.76" stroke="#008000" stroke-width="1.2"/>
<line x1="138.50" y1="866.82" x2="144.00" y2="866.82" stroke="#800080" stroke-width="1.2"/>
<text x="134.20" y="873.12" font-size="21.70" text-anchor="end" fill="#800080">2.8</text>
<line x1="590.70" y1="866.82" x2="596.20" y2="866.82" stroke="#008000" stroke-width="1.2"/>
<text x="599.30" y="873.12" font-size="21.70" text-anchor="start" fill="#008000">2.2</text>
<line x1="141.20" y1="829.89" x2="144.00" y2="829.89" stroke="#800080" stroke-width="1.2"/>
<line x1="590.70" y1="829.89" x2="593.50" y2="829.89" stroke="#008000" stroke-width="1.2"/>
<line x1="138.50" y1="792.95" x2="144.00" y2="792.95" stroke="#800080" stroke-width="1.2"/>
<text x="134.20" y="799.25" font-size="21.70" text-anchor="end" fill="#800080">2.9</text>
<line x1="590.70" y1="792.95" x2="596.20" y2="792.95" stroke="#008000" stroke-width="1.2"/>
<text x="599.30" y="799.25" font-size="21.70" text-anchor="start" fill="#008000">2.3</text>
<line x1="141.20" y1="756.01" x2="144.00" y2="756.01" stroke="#800080" stroke-width="1.2"/>
<line x1="590.70" y1="756.01" x2="593.50" y2="756.01" stroke="#008000" stroke-width="1.2"/>
<line x1="138.50" y1="719.08" x2="144.00" y2="719.08" stroke="#800080" stroke-width="1.2"/>
<text x="134.20" y="725.38" font-size="21.70" text-anchor="end" fill="#800080">3.0</text>
<line x1="590.70" y1="719.08" x2="596.20" y2="719.08" stroke="#008000" stroke-width="1.2"/>
<text x="599.30" y="725.38" font-size="21.70" text-anchor="start" fill="#008000">2.4</text>
<line x1="141.20" y1="682.14" x2="144.00" y2="682.14" stroke="#800080" stroke-width="1.2"/>
<line x1="590.70" y1="682.14" x2="593.50" y2="682.14" stroke="#008000" stroke-width="1.2"/>
<line x1="138.50" y1="645.20" x2="144.00" y2="645.20" stroke="#800080" stroke-width="1.2"/>
<text x="134.20" y="651.50" font-size="21.70" text-anchor="end" fill="#800080">3.1</text>
<line x1="590.70" y1="645.20" x2="596.20" y2="645.20" stroke="#008000" stroke-width="1.2"/>
<text x="599.30" y="651.50" font-size="21.70" text-anchor="start" fill="#008000">2.5</text>
<line x1="181.22" y1="940.70" x2="181.22" y2="946.20" stroke="#555" stroke-width="1.2"/>
<text x="181.22" y="967.20" font-size="21.70" text-anchor="middle" fill="#000">5</text>
<line x1="367.35" y1="940.70" x2="367.35" y2="946.20" stroke="#555" stroke-width="1.2"/>
<text x="367.35" y="967.20" font-size="21.70" text-anchor="middle" fill="#000">10</text>
<line x1="553.48" y1="940.70" x2="553.48" y2="946.20" stroke="#555" stroke-width="1.2"/>
<text x="553.48" y="967.20" font-size="21.70" text-anchor="middle" fill="#000">15</text>
<line x1="274.29" y1="940.70" x2="274.29" y2="943.50" stroke="#555" stroke-width="1.2"/>
<line x1="460.41" y1="940.70" x2="460.41" y2="943.50" stroke="#555" stroke-width="1.2"/>
<text x="251.20" y="985.40" font-size="24.70" text-anchor="start" fill="#000">BSA concentration (mg)</text>
<text transform="translate(79.5,804.5) rotate(-90)" font-size="25.2" text-anchor="middle">hv (eV)</text>
<text transform="translate(646,809.5) rotate(90)" font-size="25.2" text-anchor="middle">hv (eV)</text>
<text x="159.30" y="678.80" font-size="24.50" text-anchor="start" fill="#000">(g)</text>
<line x1="196.00" y1="760.70" x2="352.58" y2="810.42" stroke="#800080" stroke-width="1.9"/>
<line x1="382.74" y1="813.28" x2="538.08" y2="794.78" stroke="#800080" stroke-width="1.9"/>
<line x1="196.16" y1="782.32" x2="352.42" y2="825.74" stroke="#008000" stroke-width="1.9"/>
<line x1="382.66" y1="832.32" x2="538.17" y2="857.01" stroke="#008000" stroke-width="1.9"/>
<circle cx="181.22" cy="756.01" r="10.3" fill="none" stroke="#800080" stroke-width="2.9"/>
<circle cx="367.35" cy="815.11" r="10.3" fill="none" stroke="#800080" stroke-width="2.9"/>
<circle cx="553.48" cy="792.95" r="10.3" fill="none" stroke="#800080" stroke-width="2.9"/>
<polygon points="181.22,767.28 171.03,772.73 171.03,783.63 181.22,789.08 191.42,783.63 191.42,772.73" fill="none" stroke="#008000" stroke-width="2.90" stroke-linejoin="miter"/>
<polygon points="367.35,818.99 357.16,824.44 357.16,835.34 367.35,840.79 377.54,835.34 377.54,824.44" fill="none" stroke="#008000" stroke-width="2.90" stroke-linejoin="miter"/>
<polygon points="553.48,848.54 543.28,853.99 543.28,864.89 553.48,870.34 563.67,864.89 563.67,853.99" fill="none" stroke="#008000" stroke-width="2.90" stroke-linejoin="miter"/>
<line x1="257.9" y1="673.7" x2="310.4" y2="673.7" stroke="#800080" stroke-width="1.6"/>
<circle cx="284.5" cy="673.9" r="7.9" fill="#fff" stroke="#800080" stroke-width="1.9"/>
<line x1="257.9" y1="721.0" x2="310.4" y2="721.0" stroke="#008000" stroke-width="1.6"/>
<polygon points="286.30,712.90 278.01,717.10 278.01,725.50 286.30,729.70 294.59,725.50 294.59,717.10" fill="#fff" stroke="#008000" stroke-width="1.9"/>
<text x="323.0" y="679.0" font-size="25.0" fill="#800080">Cu<tspan font-size="24.6" dy="7.5">(2-x)</tspan><tspan dy="-7.5">Se NPs</tspan></text>
<text x="323.0" y="728.6" font-size="25.0" fill="#008000">Cu<tspan font-size="24.6" dy="7.5">(2-x)</tspan><tspan dy="-7.5">Te NPs</tspan></text>
</svg></body></html>
